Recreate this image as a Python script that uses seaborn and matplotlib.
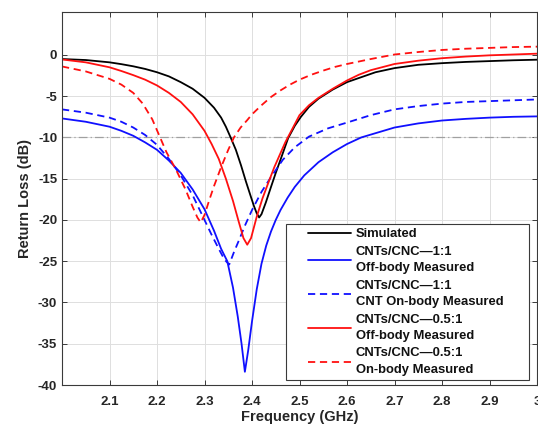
import numpy as np
import pandas as pd
import matplotlib
matplotlib.use("Agg")
import matplotlib.pyplot as plt
import seaborn as sns
from matplotlib.legend_handler import HandlerLine2D

# ---- return-loss curves (frequency in GHz, return loss in dB) ----
sim_f = [2.00, 2.05, 2.10, 2.125, 2.15, 2.175, 2.20, 2.225, 2.25, 2.275, 2.30, 2.32,
         2.335, 2.345, 2.355, 2.366, 2.377, 2.387, 2.396, 2.404, 2.41, 2.415, 2.42,
         2.429, 2.44, 2.45, 2.46, 2.468, 2.476, 2.49, 2.503, 2.52, 2.54, 2.57, 2.60,
         2.63, 2.66, 2.70, 2.75, 2.80, 2.85, 2.90, 2.95, 3.00]
sim_db = [-0.50, -0.62, -0.90, -1.12, -1.38, -1.70, -2.1, -2.6, -3.3, -4.1, -5.2, -6.4,
          -7.6, -8.7, -10.0, -11.5, -13.4, -15.3, -16.9, -18.3, -19.2, -19.7, -19.3,
          -17.9, -16.0, -14.3, -12.7, -11.4, -10.1, -8.6, -7.5, -6.3, -5.3, -4.2, -3.3,
          -2.7, -2.1, -1.6, -1.2, -1.0, -0.85, -0.75, -0.65, -0.58]

off11_f = [2.00, 2.05, 2.10, 2.125, 2.15, 2.175, 2.20, 2.225, 2.25, 2.275, 2.30, 2.32,
           2.335, 2.348, 2.36, 2.37, 2.378, 2.385, 2.392, 2.40, 2.41, 2.42, 2.43, 2.44,
           2.45, 2.46, 2.475, 2.49, 2.51, 2.54, 2.57, 2.60, 2.63, 2.70, 2.75, 2.80, 2.85,
           2.90, 2.95, 3.00]
off11_db = [-7.7, -8.1, -8.7, -9.2, -9.8, -10.6, -11.5, -12.8, -14.3, -16.3, -18.7, -21.3,
            -23.5, -25.0, -28.2, -31.7, -35.0, -38.4, -35.8, -32.3, -28.4, -25.3, -23.1, -21.4,
            -20.0, -18.8, -17.3, -16.0, -14.6, -13.0, -11.8, -10.8, -10.0, -8.8, -8.3, -7.95,
            -7.75, -7.6, -7.5, -7.45]

on11_f = [2.00, 2.05, 2.10, 2.125, 2.15, 2.175, 2.20, 2.225, 2.25, 2.275, 2.295, 2.315,
          2.33, 2.342, 2.352, 2.362, 2.373, 2.385, 2.40, 2.42, 2.44, 2.465, 2.49, 2.52,
          2.56, 2.60, 2.65, 2.70, 2.75, 2.80, 2.85, 2.90, 2.95, 3.00]
on11_db = [-6.6, -7.0, -7.6, -8.1, -8.8, -9.7, -10.9, -12.6, -14.6, -17.0, -19.4, -21.8,
           -23.5, -24.8, -25.4, -23.9, -22.4, -20.7, -18.8, -16.6, -14.8, -12.7, -11.2, -9.9,
           -8.9, -8.2, -7.3, -6.6, -6.2, -5.9, -5.7, -5.6, -5.5, -5.4]

off05_f = [2.00, 2.05, 2.10, 2.125, 2.15, 2.175, 2.20, 2.225, 2.25, 2.275, 2.30, 2.315,
           2.33, 2.345, 2.36, 2.372, 2.382, 2.39, 2.398, 2.41, 2.422, 2.435, 2.447, 2.46,
           2.47, 2.48, 2.50, 2.52, 2.54, 2.57, 2.60, 2.625, 2.65, 2.70, 2.75, 2.80, 2.85,
           2.90, 2.95, 3.00]
off05_db = [-0.55, -0.9, -1.5, -1.95, -2.45, -3.0, -3.7, -4.6, -5.7, -7.2, -9.2, -10.8,
            -12.6, -15.0, -17.7, -20.2, -22.2, -23.0, -22.2, -19.6, -17.4, -15.4, -13.6, -11.9,
            -10.6, -9.5, -7.3, -6.1, -5.2, -4.1, -3.1, -2.4, -1.85, -1.1, -0.7, -0.4, -0.2,
            -0.05, 0.05, 0.15]

on05_f = [2.00, 2.05, 2.10, 2.125, 2.15, 2.17, 2.19, 2.205, 2.22, 2.24, 2.26, 2.275,
          2.285, 2.292, 2.30, 2.31, 2.32, 2.335, 2.35, 2.362, 2.376, 2.39, 2.40, 2.42,
          2.44, 2.46, 2.48, 2.50, 2.525, 2.55, 2.575, 2.60, 2.65, 2.70, 2.75, 2.80, 2.85,
          2.90, 2.95, 3.00]
on05_db = [-1.4, -2.0, -2.9, -3.6, -4.6, -5.9, -7.8, -9.8, -11.8, -13.9, -16.3, -18.4,
           -19.7, -20.3, -19.4, -17.6, -15.9, -13.6, -11.5, -10.0, -8.8, -7.9, -7.2, -6.1,
           -5.1, -4.3, -3.6, -3.0, -2.4, -1.9, -1.45, -1.1, -0.5, 0.05, 0.35, 0.6, 0.75,
           0.85, 0.95, 1.0]

series_labels = ["Simulated",
                 "CNTs/CNC\u20141:1\nOff-body Measured",
                 "CNTs/CNC\u20141:1\nCNT On-body Measured",
                 "CNTs/CNC\u20140.5:1\nOff-body Measured",
                 "CNTs/CNC\u20140.5:1\nOn-body Measured"]

x_ticks = [2.1, 2.2, 2.3, 2.4, 2.5, 2.6, 2.7, 2.8, 2.9, 3.0]
x_tick_labels = ["2.1", "2.2", "2.3", "2.4", "2.5", "2.6", "2.7", "2.8", "2.9", "3"]
y_ticks = [-40, -35, -30, -25, -20, -15, -10, -5, 0]
y_tick_labels = ["-40", "-35", "-30", "-25", "-20", "-15", "-10", "-5", "0"]
threshold_db = -10

sns.set_theme(style="whitegrid")
plt.rcParams["font.family"] = ["Liberation Sans", "DejaVu Sans"]
plt.rcParams["font.weight"] = "bold"

fig = plt.figure(figsize=(5.38, 4.34), dpi=100)
fig.patch.set_facecolor("white")
W, H = 538, 434
ax = fig.add_axes([62 / W, 1 - 385 / H, (537 - 62) / W, (385 - 12) / H])
ax.set_facecolor("white")

dash = (0, (4, 2.6))
curves = [
    (sim_f, sim_db, "black", "-"),
    (off11_f, off11_db, "#1010ff", "-"),
    (on11_f, on11_db, "#1010ff", dash),
    (off05_f, off05_db, "#ff1010", "-"),
    (on05_f, on05_db, "#ff1010", dash),
]
for (f, db, col, ls), lab in zip(curves, series_labels):
    df = pd.DataFrame({"Frequency (GHz)": f, "Return Loss (dB)": db})
    sns.lineplot(data=df, x="Frequency (GHz)", y="Return Loss (dB)", ax=ax,
                 color=col, linestyle=ls, linewidth=1.3, label=lab)

ax.axhline(threshold_db, color="#a0a0a0", linewidth=0.9,
           linestyle=(0, (7, 2.5, 1, 2.5)), zorder=1)

ax.set_xlim(2.0, 3.0)
ax.set_ylim(-40, 5.2)
ax.set_xticks(x_ticks)
ax.set_xticklabels(x_tick_labels)
ax.set_yticks(y_ticks)
ax.set_yticklabels(y_tick_labels)

ax.grid(True, color="#dedede", linewidth=0.7)
for s in ax.spines.values():
    s.set_visible(True)
    s.set_color("#3a3a3a")
    s.set_linewidth(0.8)
ax.tick_params(axis="both", which="major", direction="in", length=3.5, width=0.7,
               color="#3a3a3a", labelsize=9.5, labelcolor="#262626",
               top=True, right=True, bottom=True, left=True)
ax.tick_params(axis="x", pad=8)
ax.tick_params(axis="y", pad=3.5)
for t in ax.get_xticklabels() + ax.get_yticklabels():
    t.set_fontweight("bold")

ax.set_xlabel("Frequency (GHz)", fontsize=10.5, fontweight="bold", color="#262626", labelpad=1)
ax.set_ylabel("Return Loss (dB)", fontsize=10.5, fontweight="bold", color="#262626", labelpad=4)


class InsetLineHandler(HandlerLine2D):
    """Line handle drawn only over the right part of the handle box."""

    def __init__(self, inset, **kw):
        super().__init__(**kw)
        self.inset = inset

    def create_artists(self, legend, orig_handle, xdescent, ydescent, width, height,
                       fontsize, trans):
        arts = super().create_artists(legend, orig_handle, xdescent, ydescent, width,
                                      height, fontsize, trans)
        for a in arts:
            xd = np.asarray(a.get_xdata(), float)
            if xd.size >= 2 and xd.max() > xd.min():
                lo, hi = xd.min(), xd.max()
                a.set_xdata(lo + self.inset + (xd - lo) * (hi - lo - self.inset) / (hi - lo))
        return arts


handles, labels = ax.get_legend_handles_labels()
x0 = (285.7 - 62) / 475
leg = ax.legend(handles, labels, loc="lower left",
                bbox_to_anchor=(x0, (385 - 380) / 373, (529 - 285.7) / 475, 0.3),
                mode="expand", borderaxespad=0, fontsize=9.4, frameon=True,
                fancybox=False, framealpha=1, edgecolor="#3a3a3a",
                handlelength=4.7, handletextpad=0.36, borderpad=0.3, labelspacing=0.4,
                handler_map={h: InsetLineHandler(13) for h in handles})
leg.get_frame().set_linewidth(0.8)
for t in leg.get_texts():
    t.set_linespacing(1.52)
    t.set_fontweight("bold")
    t.set_color("#111111")

fig.savefig("out.png", dpi=100, facecolor="white")
